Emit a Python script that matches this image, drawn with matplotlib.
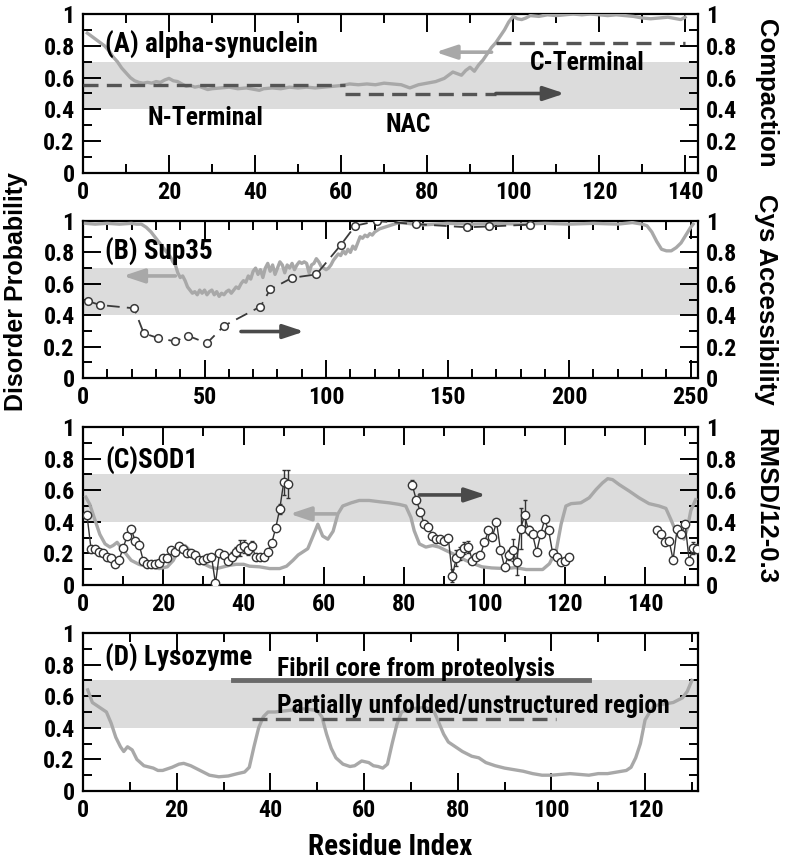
import matplotlib
matplotlib.use("Agg")
import matplotlib.pyplot as plt
from matplotlib import font_manager
from matplotlib.ticker import MultipleLocator, FixedLocator, FixedFormatter

names = {f.name for f in font_manager.fontManager.ttflist}
NARROW = None
for cand in ['Liberation Sans Narrow', 'Roboto Condensed', 'Open Sans Condensed']:
    if cand in names:
        NARROW = cand
        break
SCALE = 1.15 if NARROW else 1.0
if NARROW is None:
    NARROW = 'Liberation Sans'
WIDE = 'Liberation Sans' if 'Liberation Sans' in names else 'DejaVu Sans'
plt.rcParams['font.family'] = [NARROW, 'DejaVu Sans']
plt.rcParams['font.weight'] = 'bold'

# ---------------- data ----------------
# (A) alpha-synuclein disorder probability
asyn_res = [1, 2, 3, 4, 5, 6, 7, 8, 9, 10, 11, 12, 13, 14, 15, 16, 17, 18, 19, 20, 21, 22, 23, 24, 25,
            26, 27, 28, 29, 30, 32, 34, 36, 38, 40, 41, 42, 44, 46, 48, 50, 52, 54, 56, 58, 60, 62, 64,
            66, 68, 70, 72, 74, 75, 76, 77, 78, 80, 82, 84, 85, 86, 87, 88, 89, 90, 91, 92, 93, 94, 95,
            96, 97, 98, 99, 100, 101, 102, 103, 104, 106, 108, 110, 112, 114, 116, 118, 120, 122, 124,
            126, 128, 130, 132, 134, 136, 138, 139, 140]
asyn_dis = [0.88, 0.86, 0.84, 0.82, 0.80, 0.77, 0.73, 0.70, 0.66, 0.63, 0.60, 0.58, 0.57, 0.565, 0.57,
            0.565, 0.575, 0.57, 0.585, 0.595, 0.58, 0.575, 0.56, 0.545, 0.55, 0.54, 0.545, 0.535, 0.525,
            0.53, 0.535, 0.54, 0.53, 0.535, 0.525, 0.52, 0.53, 0.535, 0.53, 0.54, 0.535, 0.54, 0.535,
            0.54, 0.545, 0.55, 0.56, 0.555, 0.56, 0.555, 0.565, 0.56, 0.555, 0.545, 0.535, 0.545, 0.555,
            0.565, 0.575, 0.595, 0.615, 0.635, 0.625, 0.615, 0.645, 0.665, 0.64, 0.68, 0.71, 0.75, 0.79,
            0.82, 0.86, 0.90, 0.95, 0.985, 0.97, 0.965, 0.975, 0.99, 0.985, 0.995, 0.99, 0.995, 1.0,
            0.995, 1.0, 0.995, 0.99, 0.995, 0.99, 0.985, 0.975, 0.97, 0.975, 0.98, 0.97, 0.965, 0.98]
# compaction of domains (right axis): start, end, value
asyn_dom_start = [0, 61, 96]
asyn_dom_end = [61, 96, 140]
asyn_dom_val = [0.555, 0.50, 0.815]
asyn_dom_names = ['N-Terminal', 'NAC', 'C-Terminal']

# (B) Sup35 disorder probability
sup_res = [1, 5, 10, 15, 20, 22, 24, 26, 28, 30, 32, 34, 36, 37, 38, 39, 40, 41, 42, 43, 44, 45, 46,
           47, 48, 49, 50, 51, 52, 53, 54, 55, 56, 57, 58, 59, 60, 61, 62, 63, 64, 65, 66, 67, 68, 69,
           70, 71, 72, 73, 74, 75, 76, 77, 78, 79, 80, 81, 82, 83, 84, 85, 86, 87, 88, 89, 90, 91, 92,
           93, 94, 95, 96, 97, 98, 99, 100, 101, 102, 103, 104, 105, 106, 107, 108, 109, 110, 111, 112,
           113, 114, 115, 116, 117, 118, 119, 120, 122, 124, 126, 128, 130, 140, 150, 160, 170, 180,
           190, 200, 210, 220, 226, 230, 232, 234, 236, 238, 240, 242, 244, 246, 248, 250, 251]
sup_dis = [0.985, 0.98, 0.985, 0.98, 0.985, 0.98, 0.98, 0.96, 0.93, 0.89, 0.85, 0.81, 0.77, 0.74, 0.72,
           0.67, 0.64, 0.65, 0.62, 0.58, 0.56, 0.54, 0.55, 0.53, 0.56, 0.54, 0.56, 0.53, 0.55, 0.56,
           0.53, 0.55, 0.52, 0.54, 0.53, 0.55, 0.56, 0.54, 0.56, 0.58, 0.57, 0.60, 0.62, 0.61, 0.65,
           0.63, 0.68, 0.70, 0.66, 0.69, 0.64, 0.70, 0.73, 0.68, 0.72, 0.66, 0.70, 0.74, 0.72, 0.67,
           0.72, 0.70, 0.73, 0.69, 0.72, 0.74, 0.73, 0.74, 0.73, 0.67, 0.72, 0.73, 0.76, 0.74, 0.71,
           0.70, 0.69, 0.70, 0.72, 0.75, 0.77, 0.79, 0.78, 0.81, 0.79, 0.82, 0.80, 0.84, 0.82, 0.86,
           0.90, 0.89, 0.91, 0.90, 0.92, 0.91, 0.93, 0.95, 0.96, 0.97, 0.98, 0.99, 0.975, 0.985, 0.98,
           0.985, 0.98, 0.985, 0.98, 0.985, 0.98, 0.99, 0.98, 0.97, 0.93, 0.87, 0.82, 0.81, 0.81, 0.83,
           0.86, 0.91, 0.96, 0.98]
# Sup35 Cys accessibility (right axis)
sup_cys_res = [2, 7, 21, 25, 31, 38, 43, 51, 58, 73, 77, 86, 96, 106, 112, 121, 137, 158, 167, 184]
sup_cys_val = [0.49, 0.465, 0.444, 0.285, 0.254, 0.233, 0.27, 0.222, 0.332, 0.455, 0.564, 0.638,
               0.66, 0.846, 0.97, 1.0, 0.98, 0.96, 0.965, 0.977]
sup_cys_err = [0.02, 0.02, 0.02, 0.02, 0.015, 0.015, 0.02, 0.02, 0.02, 0.02, 0.02, 0.02, 0.02, 0.02,
               0.02, 0.02, 0.02, 0.015, 0.015, 0.015]

# (C) SOD1 disorder probability
sod_res = [0.7, 1.7, 3, 4.2, 5.5, 6.7, 7.5, 8.5, 10, 12, 14, 16.5, 19, 21, 22.5, 24, 25.4, 26.6, 28.3,
           30, 31.6, 33.3, 35, 36.6, 38.2, 40, 41.5, 44, 46.5, 49, 50.7, 52.3, 53.6, 54.8, 56, 57.3,
           58.5, 59.7, 61, 62.3, 63.5, 64.7, 66.8, 68.8, 71.3, 73.8, 76.3, 78.8, 80.4, 81.7, 82.5,
           83.8, 85.4, 87.1, 88.7, 90.3, 92.8, 95.3, 97.8, 99.4, 101.8, 105.2, 107.7, 110.4, 114.5,
           116.2, 117.9, 119.1, 120.3, 121.6, 124, 126.1, 127.8, 129.4, 130.7, 131.9, 133.6, 136.1,
           138.5, 141, 143.5, 145.2, 146.4, 147.6, 148.9, 149.7, 150.6, 151.4, 152.6]
sod_dis = [0.556, 0.51, 0.41, 0.32, 0.26, 0.24, 0.25, 0.27, 0.22, 0.156, 0.13, 0.115, 0.104, 0.115,
           0.156, 0.23, 0.25, 0.22, 0.167, 0.135, 0.115, 0.104, 0.115, 0.125, 0.131, 0.131, 0.119,
           0.115, 0.104, 0.104, 0.119, 0.156, 0.19, 0.21, 0.23, 0.31, 0.385, 0.31, 0.29, 0.34, 0.45,
           0.50, 0.52, 0.535, 0.535, 0.527, 0.52, 0.51, 0.50, 0.427, 0.344, 0.26, 0.24, 0.25, 0.24,
           0.22, 0.19, 0.156, 0.13, 0.115, 0.108, 0.104, 0.11, 0.098, 0.098, 0.135, 0.22, 0.385, 0.50,
           0.515, 0.52, 0.552, 0.604, 0.646, 0.673, 0.667, 0.635, 0.594, 0.552, 0.515, 0.50, 0.485,
           0.417, 0.344, 0.333, 0.29, 0.365, 0.47, 0.54]
# SOD1 RMSD (right axis), three segments
sod_rmsd_res = [[1, 2, 3, 4, 5, 6, 7, 8, 9, 10, 11, 12, 13, 14, 15, 16, 17, 18, 19, 20, 21, 22, 23, 24,
                 25, 26, 27, 28, 29, 30, 31, 32, 33, 34, 35, 36, 37, 38, 39, 40, 41, 42, 43, 44, 45,
                 46, 47, 48, 49, 50, 51],
                [82, 83, 84, 85, 86, 87, 88, 89, 90, 91, 92, 93, 94, 95, 96, 97, 98, 99, 100, 101, 102,
                 103, 104, 105, 106, 107, 108, 109, 110, 111, 112, 113, 114, 115, 116, 117, 118, 119,
                 120, 121],
                [143, 144, 145, 146, 147, 148, 149, 150, 151, 152, 153]]
sod_rmsd_val = [[0.44, 0.23, 0.23, 0.21, 0.20, 0.18, 0.17, 0.135, 0.16, 0.235, 0.31, 0.355, 0.28, 0.255,
                 0.155, 0.135, 0.135, 0.13, 0.14, 0.17, 0.17, 0.22, 0.21, 0.25, 0.23, 0.20, 0.20, 0.19,
                 0.16, 0.16, 0.17, 0.18, 0.01, 0.20, 0.19, 0.15, 0.18, 0.21, 0.235, 0.245, 0.22, 0.25,
                 0.18, 0.175, 0.18, 0.21, 0.265, 0.36, 0.48, 0.65, 0.64],
                [0.635, 0.54, 0.465, 0.385, 0.37, 0.31, 0.29, 0.29, 0.28, 0.30, 0.06, 0.17, 0.20, 0.235,
                 0.24, 0.155, 0.18, 0.19, 0.27, 0.345, 0.305, 0.40, 0.22, 0.115, 0.19, 0.22, 0.145,
                 0.355, 0.44, 0.345, 0.32, 0.21, 0.32, 0.415, 0.345, 0.20, 0.177, 0.145, 0.15, 0.177],
                [0.345, 0.32, 0.27, 0.28, 0.16, 0.355, 0.32, 0.385, 0.155, 0.235, 0.23]]
sod_rmsd_err = [[0.01, 0.01, 0.01, 0.01, 0.01, 0.01, 0.01, 0.01, 0.01, 0.01, 0.01, 0.01, 0.01, 0.01,
                 0.01, 0.01, 0.01, 0.01, 0.01, 0.01, 0.01, 0.01, 0.01, 0.01, 0.01, 0.01, 0.01, 0.01,
                 0.01, 0.01, 0.01, 0.01, 0.02, 0.01, 0.01, 0.01, 0.03, 0.03, 0.05, 0.04, 0.03, 0.03,
                 0.01, 0.01, 0.01, 0.01, 0.01, 0.02, 0.03, 0.08, 0.09],
                [0.03, 0.01, 0.01, 0.01, 0.01, 0.01, 0.01, 0.01, 0.01, 0.01, 0.04, 0.05, 0.04, 0.04,
                 0.04, 0.01, 0.01, 0.01, 0.01, 0.01, 0.01, 0.01, 0.01, 0.01, 0.03, 0.07, 0.08, 0.13,
                 0.10, 0.03, 0.01, 0.01, 0.01, 0.01, 0.01, 0.01, 0.01, 0.01, 0.01, 0.01],
                [0.01, 0.01, 0.01, 0.01, 0.01, 0.01, 0.01, 0.02, 0.01, 0.04, 0.03]]

# (D) Lysozyme disorder probability
lys_res = [1, 2, 3, 4, 5, 6, 7, 8, 8.7, 9.5, 10.5, 11.5, 13, 15, 16, 17, 19, 20.5, 21.5, 23, 25, 27,
           29, 31, 33, 34.5, 35.5, 36.5, 37.5, 38.5, 39.5, 41, 44, 47, 50, 51, 52, 53, 54, 55.5, 57,
           58, 59.5, 61, 62, 63, 64, 65, 66, 67, 68, 70, 73, 75, 76, 77, 78, 79.5, 81, 83, 84.5, 86,
           88, 90, 92, 94, 96, 98, 100, 102, 104, 106, 108, 110, 112, 114, 116, 117, 118, 119, 120,
           121, 122, 124, 126, 128, 129, 130]
lys_dis = [0.64, 0.56, 0.54, 0.52, 0.50, 0.43, 0.34, 0.28, 0.25, 0.28, 0.26, 0.20, 0.16, 0.145, 0.13,
           0.13, 0.15, 0.17, 0.175, 0.16, 0.13, 0.10, 0.09, 0.095, 0.11, 0.12, 0.15, 0.28, 0.40, 0.47,
           0.50, 0.50, 0.51, 0.52, 0.51, 0.47, 0.36, 0.27, 0.21, 0.17, 0.155, 0.16, 0.19, 0.18, 0.16,
           0.155, 0.145, 0.17, 0.30, 0.42, 0.50, 0.52, 0.53, 0.50, 0.43, 0.36, 0.31, 0.28, 0.25, 0.22,
           0.21, 0.18, 0.16, 0.145, 0.135, 0.125, 0.11, 0.10, 0.10, 0.105, 0.11, 0.105, 0.10, 0.11,
           0.11, 0.12, 0.13, 0.15, 0.21, 0.30, 0.45, 0.50, 0.54, 0.55, 0.56, 0.59, 0.63, 0.70]
lys_core = (32, 108, 0.70)        # fibril core from proteolysis
lys_unfold = (36, 101, 0.455)     # partially unfolded region

panel_titles = ['(A) alpha-synuclein', '(B) Sup35', '(C)SOD1', '(D) Lysozyme']
right_labels = ['Compaction', 'Cys Accessibility', 'RMSD/12-0.3', None]
xlims = [143, 253, 153.2, 131.3]
xmajor = [20, 50, 20, 20]
yticks = [0, 0.2, 0.4, 0.6, 0.8, 1.0]
ytick_labels = ['0', '0.2', '0.4', '0.6', '0.8', '1']

# ---------------- styling ----------------
GRAY_LINE = '#a8a8a8'
DARK = '#4a4a4a'
BAND = '#dcdcdc'
TICK_FS = 15 * SCALE
TXT_FS = 16 * SCALE

fig = plt.figure(figsize=(7.86, 8.6), dpi=100)
W, H = 786.0, 860.0
left_px, right_px = 83, 698
panel_px = [(14, 173), (221, 378), (427, 585), (633, 791)]
axes = []
for (top, bot) in panel_px:
    ax = fig.add_axes([left_px / W, 1 - bot / H, (right_px - left_px) / W, (bot - top) / H])
    axes.append(ax)

for i, ax in enumerate(axes):
    ax.set_xlim(0, xlims[i])
    ax.set_ylim(0, 1)
    ax.axhspan(0.4, 0.7, color=BAND, lw=0, zorder=0)
    ax.xaxis.set_major_locator(MultipleLocator(xmajor[i]))
    ax.xaxis.set_minor_locator(MultipleLocator(10))
    ax.yaxis.set_major_locator(FixedLocator(yticks))
    ax.yaxis.set_major_formatter(FixedFormatter(ytick_labels))
    ax.yaxis.set_minor_locator(MultipleLocator(0.1))
    ax.tick_params(which='both', direction='in', top=True, right=True, width=1.4,
                   labelsize=TICK_FS, labelright=(right_labels[i] is not None))
    ax.tick_params(which='major', length=13, pad=6)
    ax.tick_params(which='minor', length=6.5)
    for lab in ax.get_xticklabels() + ax.get_yticklabels():
        lab.set_fontweight('bold')
    for s in ax.spines.values():
        s.set_linewidth(1.6)
    ax.text(0.036, [0.805, 0.80, 0.785, 0.84][i], panel_titles[i], transform=ax.transAxes,
            fontsize=17 * SCALE, fontweight='bold', va='center', ha='left', zorder=6)
    if right_labels[i]:
        top, bot = panel_px[i]
        fig.text(766 / W, 1 - (top + bot) / 2 / H, right_labels[i], rotation=-90,
                 fontsize=18.5, fontweight='bold', family=[WIDE, 'DejaVu Sans'],
                 ha='center', va='center')


def arrow(ax, x0, x1, y, color):
    ax.annotate('', xy=(x1, y), xytext=(x0, y),
                arrowprops=dict(arrowstyle='-|>,head_length=0.9,head_width=0.3', color=color,
                                lw=2.6, shrinkA=0, shrinkB=0, mutation_scale=14), zorder=5)


# (A)
ax = axes[0]
ax.plot(asyn_res, asyn_dis, color=GRAY_LINE, lw=2.4, zorder=3)
for xs, xe, v in zip(asyn_dom_start, asyn_dom_end, asyn_dom_val):
    ax.plot([xs, xe], [v, v], color='#555555', lw=2.4, dashes=(4.5, 2.5), zorder=4)
arrow(ax, 96, 112, 0.50, DARK)
arrow(ax, 95, 82, 0.76, GRAY_LINE)
ax.text(28.4, 0.345, asyn_dom_names[0], fontsize=TXT_FS, fontweight='bold', ha='center', va='center')
ax.text(75.5, 0.30, asyn_dom_names[1], fontsize=TXT_FS, fontweight='bold', ha='center', va='center')
ax.text(117.3, 0.69, asyn_dom_names[2], fontsize=TXT_FS, fontweight='bold', ha='center', va='center')

# (B)
ax = axes[1]
ax.plot(sup_res, sup_dis, color=GRAY_LINE, lw=2.4, zorder=3)
ax.plot(sup_cys_res, sup_cys_val, color='#3a3a3a', lw=1.3, dashes=(7, 4), zorder=4)
ax.errorbar(sup_cys_res, sup_cys_val, yerr=sup_cys_err, fmt='o', ms=5.5, mfc='white', mec='#3a3a3a',
            mew=1.1, ecolor='#3a3a3a', elinewidth=1, capsize=0, zorder=5)
arrow(ax, 65, 91, 0.296, DARK)
arrow(ax, 38, 16.5, 0.65, GRAY_LINE)

# (C)
ax = axes[2]
ax.plot(sod_res, sod_dis, color=GRAY_LINE, lw=2.4, zorder=3)
for rr, vv, ee in zip(sod_rmsd_res, sod_rmsd_val, sod_rmsd_err):
    ax.errorbar(rr, vv, yerr=ee, fmt='-o', color='#333333', lw=1.0, ms=6, mfc='white',
                mec='#333333', mew=1.0, ecolor='#333333', elinewidth=1, capsize=1.5, zorder=5)
arrow(ax, 63, 51.5, 0.45, GRAY_LINE)
arrow(ax, 83.8, 100.4, 0.57, DARK)

# (D)
ax = axes[3]
ax.plot(lys_res, lys_dis, color=GRAY_LINE, lw=2.4, zorder=3)
ax.plot([lys_core[0], lys_core[1]], [lys_core[2], lys_core[2]], color='#6a6a6a', lw=3.5, zorder=4)
ax.plot([lys_unfold[0], lys_unfold[1]], [lys_unfold[2], lys_unfold[2]], color='#555555', lw=2.4,
        dashes=(4.5, 2.5), zorder=4)
ax.text(41.5, 0.775, 'Fibril core from proteolysis', fontsize=TXT_FS, fontweight='bold',
        ha='left', va='center', zorder=6)
ax.text(41.5, 0.537, 'Partially unfolded/unstructured region', fontsize=TXT_FS, fontweight='bold',
        ha='left', va='center', zorder=6)

fig.text(390 / W, 1 - 847 / H, 'Residue Index', fontsize=21, fontweight='bold',
         ha='center', va='center')
fig.text(16 / W, 1 - 292 / H, 'Disorder Probability', rotation=90, fontsize=18, fontweight='bold',
         family=[WIDE, 'DejaVu Sans'], ha='center', va='center')

fig.savefig('out.png', dpi=100)
